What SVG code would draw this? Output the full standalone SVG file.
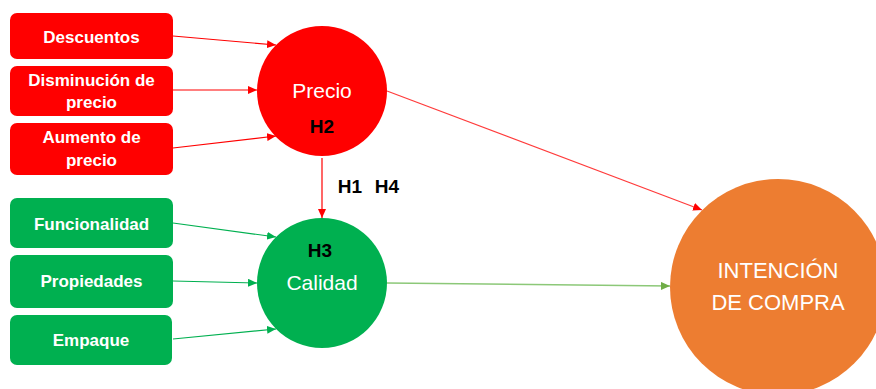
<svg xmlns="http://www.w3.org/2000/svg" width="876" height="389" viewBox="0 0 876 389">
<style>
.box-r{fill:#FF0000}
.box-g{fill:#00B050}
.lbl{font-family:"Liberation Sans",Arial,sans-serif;font-weight:bold;font-size:17px;fill:#FFFFFF;text-anchor:middle}
.big{font-family:"Liberation Sans",Arial,sans-serif;font-size:21px;fill:#FFFFFF;text-anchor:middle}
.h{font-family:"Liberation Sans",Arial,sans-serif;font-weight:bold;font-size:19px;fill:#000000;text-anchor:middle}
.cr{stroke:#FF0000;stroke-width:1.2;fill:none}
.cr2{stroke:#FF3B3B;stroke-width:1.2;fill:none}
.cg{stroke:#00B050;stroke-width:1.2;fill:none}
.cg2{stroke:#8CC878;stroke-width:1.5;fill:none}
</style>
<defs>
<marker id="ar" markerUnits="userSpaceOnUse" markerWidth="10" markerHeight="8" refX="9" refY="4" orient="auto"><path d="M0,0 L9,4 L0,8 Z" fill="#FF0000"/></marker>
<marker id="ag" markerUnits="userSpaceOnUse" markerWidth="10" markerHeight="8" refX="9" refY="4" orient="auto"><path d="M0,0 L9,4 L0,8 Z" fill="#00B050"/></marker>
<marker id="ag2" markerUnits="userSpaceOnUse" markerWidth="10" markerHeight="8" refX="9" refY="4" orient="auto"><path d="M0,0 L9,4 L0,8 Z" fill="#70AD47"/></marker>
</defs>
<rect width="876" height="389" fill="#FFFFFF"/>
<g id="connectors">
<line class="cr" x1="173" y1="36" x2="276" y2="45" marker-end="url(#ar)"/>
<line class="cr" x1="173" y1="90" x2="257" y2="90" marker-end="url(#ar)"/>
<line class="cr" x1="173" y1="148" x2="276" y2="136" marker-end="url(#ar)"/>
<line class="cr" x1="322" y1="158" x2="322" y2="218" marker-end="url(#ar)"/>
<line class="cr2" x1="387" y1="91" x2="702" y2="210" marker-end="url(#ar)"/>
<line class="cg" x1="173" y1="223" x2="276" y2="237" marker-end="url(#ag)"/>
<line class="cg" x1="173" y1="281" x2="257" y2="283" marker-end="url(#ag)"/>
<line class="cg" x1="173" y1="339" x2="276" y2="329" marker-end="url(#ag)"/>
<line class="cg2" x1="387" y1="283" x2="670" y2="286" marker-end="url(#ag2)"/>
</g>
<g id="descuentos"><rect class="box-r" x="10" y="13" width="163" height="46" rx="7"/><text class="lbl" x="91.5" y="43">Descuentos</text></g>
<g id="disminucion"><rect class="box-r" x="10" y="66" width="163" height="50" rx="7"/><text class="lbl" x="91.5" y="86">Disminución de</text><text class="lbl" x="91.5" y="108">precio</text></g>
<g id="aumento"><rect class="box-r" x="10" y="123" width="163" height="52" rx="7"/><text class="lbl" x="91.5" y="143">Aumento de</text><text class="lbl" x="91.5" y="166">precio</text></g>
<g id="funcionalidad"><rect class="box-g" x="10" y="198" width="163" height="50" rx="7"/><text class="lbl" x="91.5" y="230">Funcionalidad</text></g>
<g id="propiedades"><rect class="box-g" x="10" y="255" width="163" height="53" rx="7"/><text class="lbl" x="91.5" y="287">Propiedades</text></g>
<g id="empaque"><rect class="box-g" x="10" y="315" width="162" height="50" rx="7"/><text class="lbl" x="91" y="346">Empaque</text></g>
<g id="precio"><circle cx="322" cy="91" r="65" fill="#FF0000"/><text class="big" x="322" y="98">Precio</text><text class="h" x="322" y="133">H2</text></g>
<g id="calidad"><circle cx="322" cy="283" r="65" fill="#00B050"/><text class="h" x="320" y="257">H3</text><text class="big" x="322" y="290">Calidad</text></g>
<g id="h1h4"><text class="h"><tspan x="350" y="193">H1</tspan><tspan x="387" y="193">H4</tspan></text></g>
<g id="intencion"><circle cx="778" cy="287" r="108" fill="#ED7D31"/><text class="big" style="font-size:22px" x="778" y="278">INTENCIÓN</text><text class="big" style="font-size:22px" x="778" y="310">DE COMPRA</text></g>
</svg>
